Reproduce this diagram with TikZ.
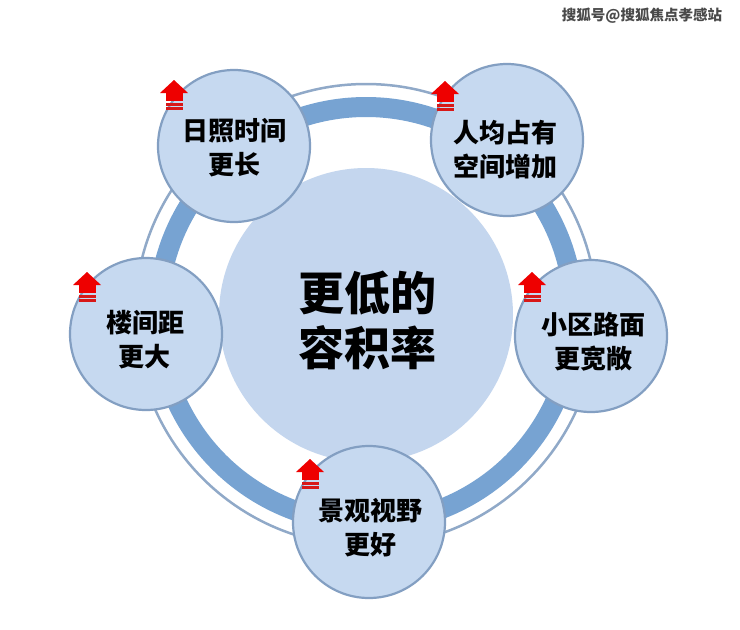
\documentclass[tikz,border=0pt]{standalone}
\usepackage{fontspec}
\newfontfamily\cjk{Noto Sans CJK SC}
\definecolor{cfill}{HTML}{C6D9F0}
\definecolor{corefill}{HTML}{C4D6EE}
\definecolor{cline}{HTML}{839FC2}
\definecolor{bandc}{HTML}{77A3D2}
\definecolor{outerc}{HTML}{90A9C8}
\definecolor{iconred}{HTML}{EE0000}
\definecolor{barred}{HTML}{D81818}
\definecolor{wmark}{HTML}{4A4A4A}
\tikzset{
  smallc/.style={circle, fill=cfill, draw=cline, line width=2.2pt, minimum size=152pt, inner sep=0pt},
  corec/.style={circle, fill=corefill, minimum size=294pt, inner sep=0pt},
  lbl/.style={font=\cjk\bfseries\fontsize{26}{34}\selectfont, align=center, text=black, inner sep=0pt},
  corelbl/.style={font=\cjk\bfseries\fontsize{46}{55}\selectfont, align=center, text=black, inner sep=0pt},
  upicon/.pic={
    \fill[iconred] (-14,13) -- (0,0) -- (14,13) -- cycle;
    \fill[iconred] (-8.5,12.5) rectangle (8.5,21);
    \fill[barred] (-8.5,22.5) rectangle (8.5,25.5);
    \fill[barred] (-8.5,27) rectangle (8.5,30);
  }
}
\begin{document}
\begin{tikzpicture}[x=1pt,y=-1pt]
\fill[white] (0,0) rectangle (740,630);
\useasboundingbox (0,0) rectangle (740,630);
% ring
\coordinate (ctr) at (366,315);
\draw[outerc, line width=2.5pt] (ctr) circle[radius=231];
\draw[bandc, line width=20pt] (ctr) circle[radius=208];
% core
\node[corec] (core) at (ctr) {};
\node[corelbl] (coret) at (367,320) {更低的\\容积率};
% satellites
\node[smallc] (c1) at (234,146) {};
\node[smallc] (c2) at (507,140) {};
\node[smallc] (c3) at (591,336) {};
\node[smallc] (c4) at (369,522) {};
\node[smallc] (c5) at (146,334) {};
\node[lbl] (t1) at (234,148) {日照时间\\更长};
\node[lbl] (t2) at (505,150) {人均占有\\空间增加};
\node[lbl] (t3) at (593,342) {小区路面\\更宽敞};
\node[lbl] (t4) at (370,528) {景观视野\\更好};
\node[lbl] (t5) at (145,340) {楼间距\\更大};
% icons
\pic at (174,80) {upicon};
\pic at (445,81) {upicon};
\pic at (532,272) {upicon};
\pic at (87,272) {upicon};
\pic at (310,459) {upicon};
% watermark
\node[font=\cjk\bfseries\fontsize{14.5}{16}\selectfont, text=wmark, inner sep=0pt] (wm) at (642,16) {搜狐号@搜狐焦点孝感站};
\end{tikzpicture}
\end{document}
